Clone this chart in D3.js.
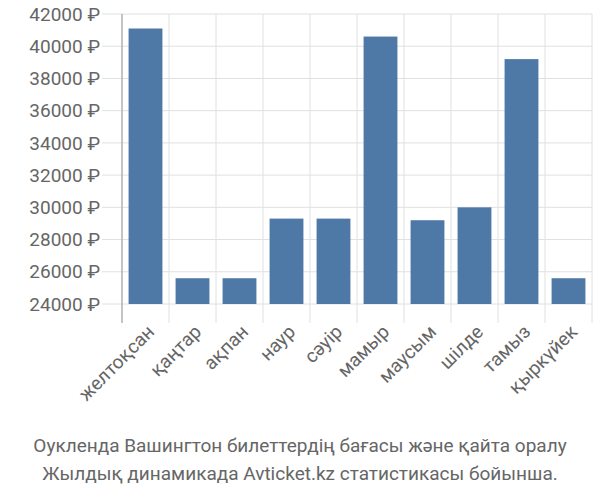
<!DOCTYPE html>
<html><head><meta charset="utf-8">
<script src="https://cdn.jsdelivr.net/npm/d3@7"></script>
<style>body{margin:0;background:#fff;font-family:Roboto,sans-serif}</style>
</head><body>
<svg id="chart" width="600" height="500"></svg>
<script>
let months = ["желтоқсан","қаңтар","ақпан","наур","сәуір","мамыр","маусым","шілде","тамыз","қыркүйек"];
let prices = [41100, 25600, 25600, 29300, 29300, 40600, 29200, 30000, 39200, 25600];
let yTicks = [24000,26000,28000,30000,32000,34000,36000,38000,40000,42000];
let captionLines = ["Оукленда Вашингтон билеттердің бағасы және қайта оралу",
                    "Жылдық динамикада Avticket.kz статистикасы бойынша."];

let svg = d3.select("#chart");
let plotLeft = 122, plotRight = 592, plotTop = 14, plotBottom = 304;

let x = d3.scaleBand().domain(months).range([plotLeft, plotRight]).paddingInner(0.28).paddingOuter(0.14);
let y = d3.scaleLinear().domain([24000, 42000]).range([plotBottom, plotTop]);

// horizontal grid
svg.append("g").selectAll("line").data(yTicks).join("line")
  .attr("x1", 102).attr("x2", plotRight).attr("y1", d => y(d)).attr("y2", d => y(d))
  .attr("stroke", "#e0e0e0").attr("stroke-width", 1);

// vertical grid between categories
let step = x.step();
let bounds = d3.range(1, months.length + 1).map(i => plotLeft + i * step);
svg.append("g").selectAll("line").data(bounds).join("line")
  .attr("x1", d => d).attr("x2", d => d).attr("y1", plotTop).attr("y2", 323)
  .attr("stroke", "#e0e0e0");

svg.append("line").attr("x1", plotLeft).attr("x2", plotLeft).attr("y1", plotTop).attr("y2", 323)
  .attr("stroke", "#b0b0b0").attr("stroke-width", 1.5);

svg.append("g").selectAll("rect").data(months).join("rect")
  .attr("x", d => x(d)).attr("width", x.bandwidth())
  .attr("y", (d, i) => y(prices[i])).attr("height", (d, i) => plotBottom - y(prices[i]))
  .attr("fill", "#4e79a7");

svg.append("g").selectAll("text").data(yTicks).join("text")
  .attr("x", 100).attr("y", d => y(d)).attr("dy", "0.35em")
  .attr("text-anchor", "end").attr("fill", "#666").attr("font-size", 19)
  .text(d => d + " ₽");

svg.append("g").selectAll("text").data(months).join("text")
  .attr("transform", d => `translate(${x(d) + x.bandwidth() / 2 + 10},${333}) rotate(-45)`)
  .attr("text-anchor", "end").attr("fill", "#666").attr("font-size", 19)
  .text(d => d);

svg.append("g").selectAll("text").data(captionLines).join("text")
  .attr("x", 300).attr("y", (d, i) => 452 + i * 28)
  .attr("text-anchor", "middle").attr("fill", "#666").attr("font-size", 19)
  .text(d => d);
</script>
</body></html>
